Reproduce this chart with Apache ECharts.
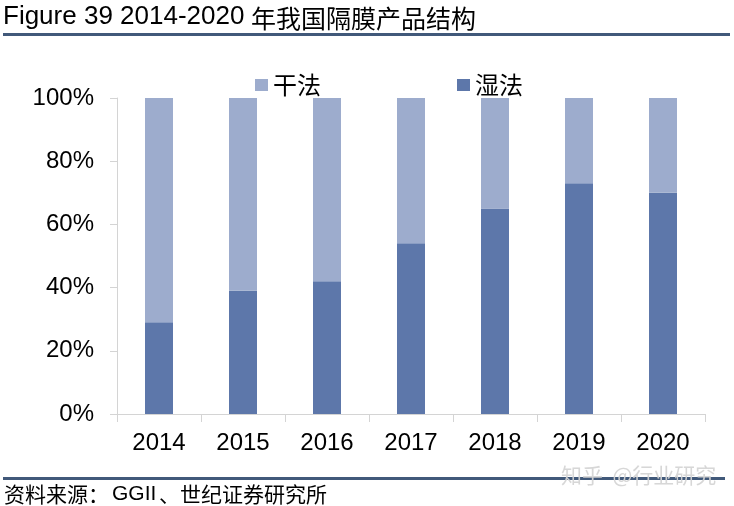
<!DOCTYPE html>
<html><head><meta charset="utf-8">
<script src="https://cdn.jsdelivr.net/npm/echarts@6/dist/echarts.min.js"></script>
<style>html,body{margin:0;padding:0;background:#fff}#c{width:734px;height:506px}</style>
</head><body><div id="c"></div>
<script>
var categories = ['2014','2015','2016','2017','2018','2019','2020'];
var wetValues = [29, 39, 42, 54, 65, 73, 70];
var dryValues = [71, 61, 58, 46, 35, 27, 30];
var yTicks = [0, 20, 40, 60, 80, 100];
var titleLatin = 'Figure 39 2014-2020';
var titleCjk = '年我国隔膜产品结构';
var sourceCjk1 = '资料来源：';
var sourceLatin = 'GGII';
var sourceCjk2 = '、世纪证券研究所';
var watermarkText = '知乎  @行业研究';

var chart = echarts.init(document.getElementById('c'));
var cjk = '"Noto Sans CJK SC", "Liberation Sans", sans-serif';
var latin = '"Liberation Sans", Arial, sans-serif';
chart.setOption({
  animation: false,
  backgroundColor: '#fff',
  grid: {left: 117, right: 29, top: 98, bottom: 92},
  legend: [
    {data: ['干法'], left: 250, top: 68, icon: 'rect', itemWidth: 13, itemHeight: 12, itemGap: 10,
     textStyle: {fontSize: 24, fontFamily: cjk, color: '#000', padding: [4, 0, 0, 0]}},
    {data: ['湿法'], left: 452, top: 68, icon: 'rect', itemWidth: 13, itemHeight: 12, itemGap: 10,
     textStyle: {fontSize: 24, fontFamily: cjk, color: '#000', padding: [4, 0, 0, 0]}}
  ],
  xAxis: {
    type: 'category', data: categories,
    axisLine: {lineStyle: {color: '#d4d4d4', width: 1}},
    axisTick: {show: true, length: 8, lineStyle: {color: '#d4d4d4'}},
    axisLabel: {fontSize: 24, color: '#000', fontFamily: latin, margin: 17}
  },
  yAxis: {
    type: 'value', min: 0, max: 100, interval: 20,
    axisLine: {show: true, lineStyle: {color: '#d4d4d4', width: 1}},
    axisTick: {show: true, length: 7, lineStyle: {color: '#d4d4d4'}},
    splitLine: {show: false},
    axisLabel: {fontSize: 24, color: '#000', fontFamily: latin, margin: 23,
      formatter: function(v){ return yTicks.indexOf(v) >= 0 ? v + '%' : ''; }}
  },
  series: [
    {name: '湿法', type: 'bar', stack: 't', data: wetValues, barWidth: 28, itemStyle: {color: '#5d77aa'}},
    {name: '干法', type: 'bar', stack: 't', data: dryValues, barWidth: 28, itemStyle: {color: '#9daccd'}}
  ],
  graphic: [
    {type: 'text', x: 3, y: 17, style: {text: titleLatin, fontSize: 26, fontFamily: latin, fill: '#000', verticalAlign: 'middle'}},
    {type: 'text', x: 251, y: 18, style: {text: titleCjk, fontSize: 25, fontFamily: cjk, fill: '#000', verticalAlign: 'middle'}},
    {type: 'rect', shape: {x: 3, y: 33, width: 727, height: 3}, style: {fill: '#41597a'}},
    {type: 'rect', shape: {x: 3, y: 477, width: 722, height: 3}, style: {fill: '#41597a'}},
    {type: 'text', x: 561, y: 475, style: {text: watermarkText, fontSize: 21, fontFamily: cjk, fill: 'rgba(212,212,212,0.93)', verticalAlign: 'middle'}},
    {type: 'text', x: 4, y: 494, style: {text: sourceCjk1, fontSize: 21, fontFamily: cjk, fill: '#000', verticalAlign: 'middle'}},
    {type: 'text', x: 112, y: 494, style: {text: sourceLatin, fontSize: 21, fontFamily: latin, fill: '#000', verticalAlign: 'middle'}},
    {type: 'text', x: 159, y: 494, style: {text: sourceCjk2, fontSize: 21, fontFamily: cjk, fill: '#000', verticalAlign: 'middle'}}
  ]
});
</script></body></html>
